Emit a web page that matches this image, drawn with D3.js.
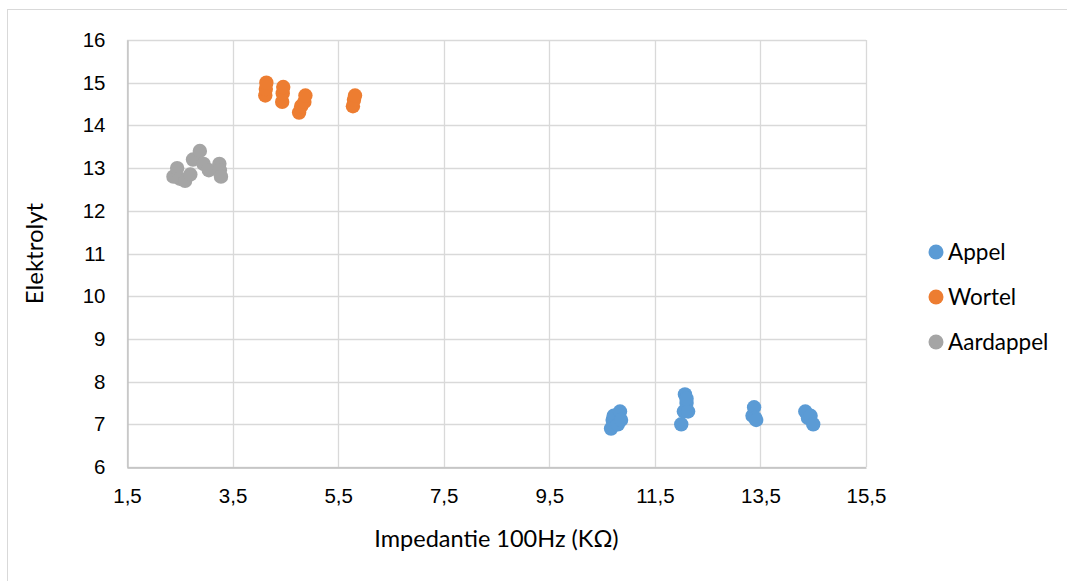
<!DOCTYPE html>
<html>
<head>
<meta charset="utf-8">
<script src="https://cdn.jsdelivr.net/npm/d3@7"></script>
<style>
  html, body { margin: 0; padding: 0; background: #fff; }
  svg { display: block; font-family: Lato, "Open Sans", sans-serif; }
</style>
</head>
<body>
<svg id="chart" width="1067" height="581"></svg>
<script>
// Series values (impedance at 100 Hz in kΩ, electrolyte reading)
const seriesNames = ["Appel", "Wortel", "Aardappel"];
const seriesColors = ["#5B9BD5", "#ED7D31", "#A5A5A5"];

const appelX = [10.67, 10.7, 10.72, 10.8, 10.84, 10.86, 12.0, 12.05, 12.07, 12.1, 12.13, 12.1, 13.35, 13.38, 13.4, 13.42, 14.35, 14.4, 14.45, 14.5];
const appelY = [6.9, 7.1, 7.2, 7.0, 7.3, 7.1, 7.0, 7.3, 7.7, 7.5, 7.3, 7.6, 7.2, 7.4, 7.15, 7.1, 7.3, 7.15, 7.2, 7.0];

const wortelX = [4.12, 4.13, 4.14, 4.44, 4.45, 4.46, 4.76, 4.8, 4.86, 4.88, 5.78, 5.8, 5.82];
const wortelY = [14.7, 14.85, 15.0, 14.55, 14.75, 14.9, 14.3, 14.45, 14.55, 14.7, 14.45, 14.6, 14.7];

const aardappelX = [2.38, 2.45, 2.5, 2.6, 2.7, 2.75, 2.88, 2.95, 3.05, 3.25, 3.26, 3.28];
const aardappelY = [12.8, 13.0, 12.75, 12.7, 12.85, 13.2, 13.4, 13.1, 12.95, 13.1, 12.95, 12.8];

const xTicks = [1.5, 3.5, 5.5, 7.5, 9.5, 11.5, 13.5, 15.5];
const yTicks = [6, 7, 8, 9, 10, 11, 12, 13, 14, 15, 16];

const xTitle = "Impedantie 100Hz (KΩ)";
const yTitle = "Elektrolyt";

const series = [
  { name: seriesNames[0], color: seriesColors[0], xs: appelX, ys: appelY },
  { name: seriesNames[1], color: seriesColors[1], xs: wortelX, ys: wortelY },
  { name: seriesNames[2], color: seriesColors[2], xs: aardappelX, ys: aardappelY }
];

const svg = d3.select("#chart");
const W = 1067, H = 581;
const plot = { left: 127, top: 40, right: 866, bottom: 467 };

// Chart frame
svg.append("rect")
  .attr("x", 7.5).attr("y", 9.5)
  .attr("width", W).attr("height", H)
  .attr("fill", "#fff").attr("stroke", "#D9D9D9").attr("stroke-width", 1);

const x = d3.scaleLinear().domain([1.5, 15.5]).range([plot.left, plot.right]);
const y = d3.scaleLinear().domain([6, 16]).range([plot.bottom, plot.top]);

// Gridlines
const grid = svg.append("g");
grid.selectAll(".hg").data(yTicks).join("line")
  .attr("x1", plot.left).attr("x2", plot.right)
  .attr("y1", d => Math.round(y(d)) + 0.5).attr("y2", d => Math.round(y(d)) + 0.5)
  .attr("stroke", "#D9D9D9").attr("stroke-width", 1.3);
grid.selectAll(".vg").data(xTicks).join("line")
  .attr("x1", d => Math.round(x(d)) + 0.5).attr("x2", d => Math.round(x(d)) + 0.5)
  .attr("y1", plot.top).attr("y2", plot.bottom)
  .attr("stroke", "#D9D9D9").attr("stroke-width", 1.3);

// Axes
const fmt = d => String(d).replace(".", ",");
const xAxis = svg.append("g")
  .attr("transform", `translate(0,${Math.round(y(6)) + 0.5})`)
  .call(d3.axisBottom(x).tickValues(xTicks).tickFormat(d => d3.format(".1f")(d).replace(".", ",")).tickSize(0).tickPadding(21));
xAxis.select(".domain").attr("stroke", "#BFBFBF").attr("stroke-width", 1.3);
xAxis.selectAll("text").attr("font-size", 20.5).attr("fill", "#000");

const yAxis = svg.append("g")
  .attr("transform", `translate(${Math.round(x(1.5)) + 0.5},0)`)
  .call(d3.axisLeft(y).tickValues(yTicks).tickFormat(fmt).tickSize(0).tickPadding(22));
yAxis.select(".domain").attr("stroke", "#BFBFBF").attr("stroke-width", 1.3);
yAxis.selectAll("text").attr("font-size", 20.5).attr("fill", "#000");

// Points
series.forEach(s => {
  svg.append("g").selectAll("circle")
    .data(s.xs.map((v, i) => [v, s.ys[i]]))
    .join("circle")
    .attr("cx", d => x(d[0])).attr("cy", d => y(d[1]))
    .attr("r", 7.2)
    .attr("fill", s.color);
});

// Axis titles
svg.append("text")
  .attr("x", (plot.left + plot.right) / 2).attr("y", 547)
  .attr("text-anchor", "middle").attr("font-size", 23.5).attr("fill", "#000")
  .text(xTitle);
svg.append("text")
  .attr("transform", `translate(43,${(plot.top + plot.bottom) / 2}) rotate(-90)`)
  .attr("text-anchor", "middle").attr("font-size", 24).attr("fill", "#000")
  .text(yTitle);

// Legend
const legend = svg.append("g");
series.forEach((s, i) => {
  const ly = 252 + i * 45;
  legend.append("circle").attr("cx", 936).attr("cy", ly).attr("r", 7.5).attr("fill", s.color);
  legend.append("text").attr("x", 948).attr("y", ly).attr("dy", "0.36em")
    .attr("font-size", 22.5).attr("fill", "#000").text(s.name);
});
</script>
</body>
</html>
